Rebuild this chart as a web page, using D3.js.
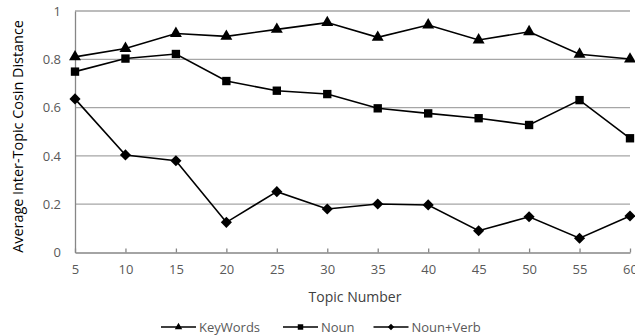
<!DOCTYPE html>
<html>
<head>
<meta charset="utf-8">
<script src="https://cdn.jsdelivr.net/npm/d3@7"></script>
<style>
  html, body { margin: 0; padding: 0; background: #fff; }
  svg { display: block; font-family: "Open Sans", "Noto Sans", sans-serif; }
</style>
</head>
<body>
<svg id="chart" width="635" height="336"></svg>
<script>
// Topic counts on the x axis
const topics = [5, 10, 15, 20, 25, 30, 35, 40, 45, 50, 55, 60];
// Average inter-topic cosine distance per feature set
const keyWords = [0.81, 0.845, 0.907, 0.895, 0.924, 0.952, 0.891, 0.942, 0.880, 0.914, 0.821, 0.801];
const noun     = [0.749, 0.803, 0.822, 0.710, 0.670, 0.656, 0.597, 0.576, 0.556, 0.528, 0.631, 0.473];
const nounVerb = [0.636, 0.404, 0.380, 0.125, 0.252, 0.180, 0.201, 0.197, 0.090, 0.148, 0.059, 0.151];
const yTicks = [0, 0.2, 0.4, 0.6, 0.8, 1];
const seriesNames = ["KeyWords", "Noun", "Noun+Verb"];

// Diamonds are drawn as squares turned by 45 degrees
const series = [
  { name: seriesNames[0], values: keyWords, symbol: d3.symbolTriangle, size: 62, legendSize: 24, rot: 0 },
  { name: seriesNames[1], values: noun,     symbol: d3.symbolSquare,   size: 70, legendSize: 30, rot: 0 },
  { name: seriesNames[2], values: nounVerb, symbol: d3.symbolSquare,   size: 62, legendSize: 20, rot: 45 }
];

const svg = d3.select("#chart");
const margin = { left: 75, right: 5, top: 11, bottom: 83.5 };
const W = 635, H = 336;

const x = d3.scaleLinear().domain([5, 60]).range([margin.left, W - margin.right]);
const y = d3.scaleLinear().domain([0, 1]).range([H - margin.bottom, margin.top]);

// Horizontal gridlines
svg.append("g")
  .selectAll("line")
  .data(yTicks.filter(t => t > 0))
  .join("line")
  .attr("x1", x(5)).attr("x2", x(60))
  .attr("y1", d => y(d)).attr("y2", d => y(d))
  .attr("stroke", "#a6a6a6").attr("stroke-width", 1.3);

// Y axis: line plus labels
const yAxis = svg.append("g")
  .attr("transform", `translate(${x(5)},0)`)
  .call(d3.axisLeft(y).tickValues(yTicks).tickSize(0).tickPadding(14)
    .tickFormat(d => d === 0 ? "0" : d === 1 ? "1" : d3.format(".1f")(d)));
yAxis.select(".domain").attr("stroke", "#868686").attr("stroke-width", 1.3);
yAxis.selectAll("text").attr("fill", "#595959").style("font-size", "13px")
  .style("font-family", "'Open Sans', sans-serif");

// X axis: inward ticks
const xAxis = svg.append("g")
  .attr("transform", `translate(0,${y(0)})`)
  .call(d3.axisBottom(x).tickValues(topics).tickSizeInner(-4).tickSizeOuter(0).tickPadding(12));
xAxis.select(".domain").attr("stroke", "#868686").attr("stroke-width", 1.3);
xAxis.selectAll(".tick line").attr("stroke", "#868686").attr("stroke-width", 1.3);
xAxis.selectAll("text").attr("fill", "#595959").style("font-size", "13px")
  .style("font-family", "'Open Sans', sans-serif");

// Axis titles
svg.append("text")
  .attr("x", 355).attr("y", 302)
  .attr("text-anchor", "middle")
  .attr("fill", "#404040")
  .style("font-size", "14px")
  .text("Topic Number");

svg.append("text")
  .attr("transform", "translate(23,136.5) rotate(-90)")
  .attr("text-anchor", "middle")
  .attr("fill", "#000")
  .style("font-size", "14.4px")
  .text("Average Inter-Topic Cosin Distance");

// Series lines and markers
const line = d3.line().x((d, i) => x(topics[i])).y(d => y(d));
series.forEach(s => {
  svg.append("path")
    .datum(s.values)
    .attr("d", line)
    .attr("fill", "none")
    .attr("stroke", "#000")
    .attr("stroke-width", 1.6);
  svg.append("g")
    .selectAll("path")
    .data(s.values)
    .join("path")
    .attr("transform", (d, i) => `translate(${x(topics[i])},${y(d)}) rotate(${s.rot})`)
    .attr("d", d3.symbol().type(s.symbol).size(s.size))
    .attr("fill", "#000");
});

// Legend
const legendX = [161, 283, 373.5];
const legendY = 327;
series.forEach((s, i) => {
  const g = svg.append("g").attr("transform", `translate(${legendX[i]},${legendY})`);
  g.append("line").attr("x1", 0).attr("x2", 35).attr("y1", 0).attr("y2", 0)
    .attr("stroke", "#000").attr("stroke-width", 1.6);
  g.append("path").attr("transform", `translate(17.5,0) rotate(${s.rot})`)
    .attr("d", d3.symbol().type(s.symbol).size(s.legendSize)).attr("fill", "#000");
  g.append("text").attr("x", 38).attr("y", 0).attr("dy", "0.35em")
    .attr("fill", "#595959").style("font-size", "13px")
    .text(s.name);
});
</script>
</body>
</html>
